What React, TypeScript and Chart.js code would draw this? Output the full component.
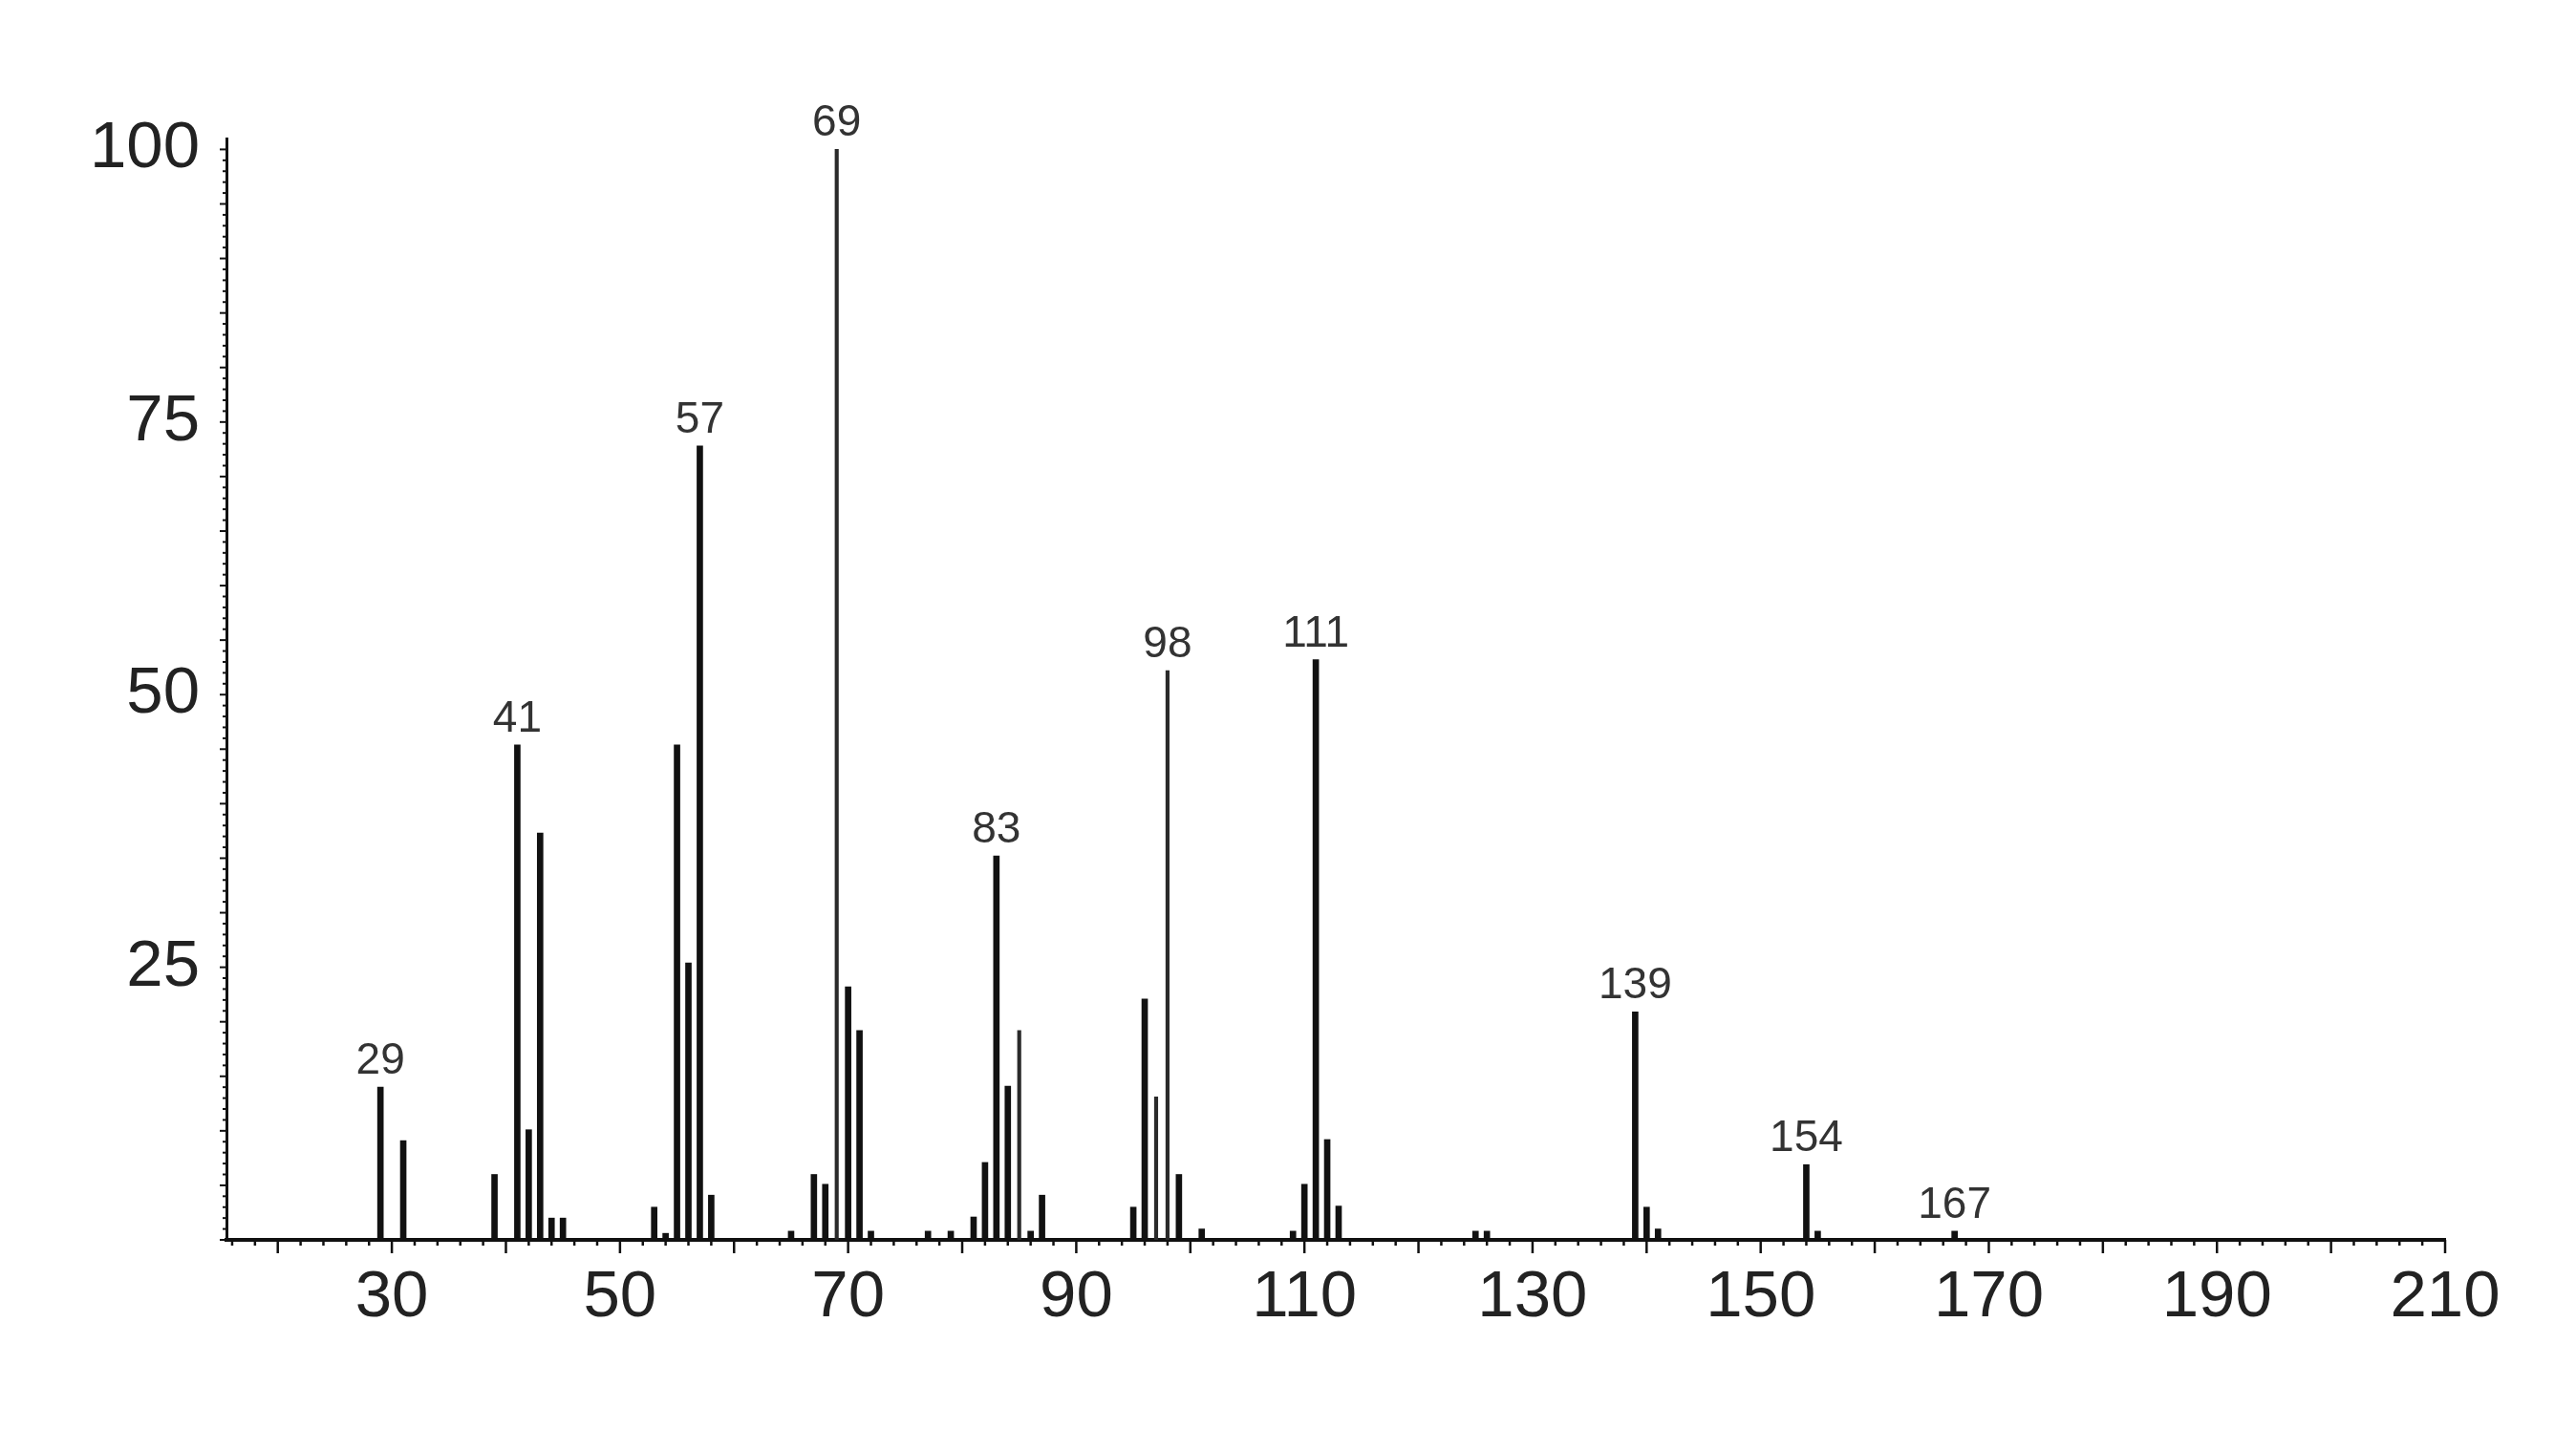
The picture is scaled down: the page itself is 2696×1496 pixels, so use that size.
import React, { useEffect, useRef } from 'react';
import { Chart, registerables } from 'chart.js';

Chart.register(...registerables);

// m/z values and relative intensities (%)
const mzValues = [
  29, 31, 39, 41, 42, 43, 44, 45, 53, 54, 55, 56, 57, 58, 65, 67, 68, 69, 70, 71, 72,
  77, 79, 81, 82, 83, 84, 85, 86, 87, 95, 96, 97, 98, 99, 101, 109, 110, 111, 112, 113,
  125, 126, 139, 140, 141, 154, 155, 167,
];
const intensities = [
  14.0, 9.1, 6.0, 45.4, 10.1, 37.3, 2.0, 2.0, 3.0, 0.6, 45.4, 25.4, 72.8, 4.1, 0.8, 6.0, 5.1, 100, 23.2, 19.2, 0.8,
  0.8, 0.8, 2.1, 7.1, 35.2, 14.1, 19.2, 0.8, 4.1, 3.0, 22.1, 13.1, 52.2, 6.0, 1.0, 0.8, 5.1, 53.2, 9.2, 3.1,
  0.8, 0.8, 20.9, 3.0, 1.0, 6.9, 0.8, 0.8,
];
const labeledPeaks = [29, 41, 57, 69, 83, 98, 111, 139, 154, 167];
const thinPeaks = [69, 85, 97, 98];
const xTickLabels = [30, 50, 70, 90, 110, 130, 150, 170, 190, 210];
const yTickLabels = [25, 50, 75, 100];

const W = 2696;
const H = 1496;
const AXIS_FONT = '"Liberation Sans", Arial, sans-serif';
const LABEL_FONT = '"Liberation Sans", Arial, sans-serif';

export default function App() {
  const ref = useRef<HTMLCanvasElement>(null);

  useEffect(() => {
    if (!ref.current) return;
    const points = mzValues.map((x, i) => ({ x, y: intensities[i] }));
    const thick = points.filter((p) => !thinPeaks.includes(p.x));
    const thin = points.filter((p) => thinPeaks.includes(p.x));

    const tickPlugin = {
      id: 'msTicks',
      afterDraw(chart: any) {
        const { ctx } = chart;
        const xs = chart.scales.x;
        const ys = chart.scales.y;
        const base = ys.getPixelForValue(0);
        const left = xs.getPixelForValue(xs.min);
        ctx.save();
        ctx.strokeStyle = '#111';
        ctx.lineWidth = 2.5;
        for (let v = 16; v <= 210; v += 2) {
          const px = xs.getPixelForValue(v);
          const len = v % 10 === 0 ? 14 : 6;
          ctx.beginPath();
          ctx.moveTo(px, base);
          ctx.lineTo(px, base + len);
          ctx.stroke();
        }
        ctx.lineWidth = 2;
        for (let v = 0; v <= 100; v += 1) {
          const py = ys.getPixelForValue(v);
          const len = v % 5 === 0 ? 7 : 4;
          ctx.beginPath();
          ctx.moveTo(left, py);
          ctx.lineTo(left - len, py);
          ctx.stroke();
        }
        ctx.restore();
      },
    };

    const peakLabelPlugin = {
      id: 'peakLabels',
      afterDatasetsDraw(chart: any) {
        const { ctx } = chart;
        const xs = chart.scales.x;
        const ys = chart.scales.y;
        ctx.save();
        ctx.font = `46px ${LABEL_FONT}`;
        ctx.fillStyle = '#333';
        ctx.textAlign = 'center';
        ctx.textBaseline = 'alphabetic';
        labeledPeaks.forEach((mz) => {
          const idx = mzValues.indexOf(mz);
          const px = xs.getPixelForValue(mz);
          const py = ys.getPixelForValue(intensities[idx]);
          ctx.fillText(String(mz), px, py - 14);
        });
        ctx.restore();
      },
    };

    const chart = new Chart(ref.current, {
      type: 'bar',
      data: {
        datasets: [
          { data: thick as any, backgroundColor: '#111', barThickness: 6, grouped: false } as any,
          { data: thin as any, backgroundColor: '#2a2a2a', barThickness: 3.5, grouped: false } as any,
        ],
      },
      options: {
        animation: false,
        responsive: false,
        devicePixelRatio: 1,
        layout: { padding: { top: 145, right: 137, left: 0, bottom: 0 } },
        plugins: { legend: { display: false }, tooltip: { enabled: false } },
        scales: {
          x: {
            type: 'linear',
            min: 15.5,
            max: 210,
            offset: false,
            grid: { display: false },
            border: { display: true, color: '#111', width: 4 },
            afterBuildTicks: (s: any) => {
              s.ticks = xTickLabels.map((v) => ({ value: v }));
            },
            afterFit: (s: any) => {
              s.height = 198;
            },
            ticks: {
              padding: 12,
              color: '#222',
              autoSkip: false,
              maxRotation: 0,
              font: { family: AXIS_FONT, size: 69 },
            },
          },
          y: {
            min: 0,
            max: 101,
            grid: { display: false },
            border: { display: true, color: '#111', width: 3 },
            afterBuildTicks: (s: any) => {
              s.ticks = yTickLabels.map((v) => ({ value: v }));
            },
            afterFit: (s: any) => {
              s.width = 237;
            },
            ticks: {
              padding: 20,
              color: '#222',
              font: { family: AXIS_FONT, size: 69 },
            },
          },
        },
      } as any,
      plugins: [tickPlugin, peakLabelPlugin],
    });
    return () => chart.destroy();
  }, []);

  return (
    <div style={{ position: 'absolute', left: 0, top: 0, width: W, height: H, background: '#fff' }}>
      <canvas ref={ref} width={W} height={H} style={{ width: W, height: H, display: 'block' }} />
    </div>
  );
}
